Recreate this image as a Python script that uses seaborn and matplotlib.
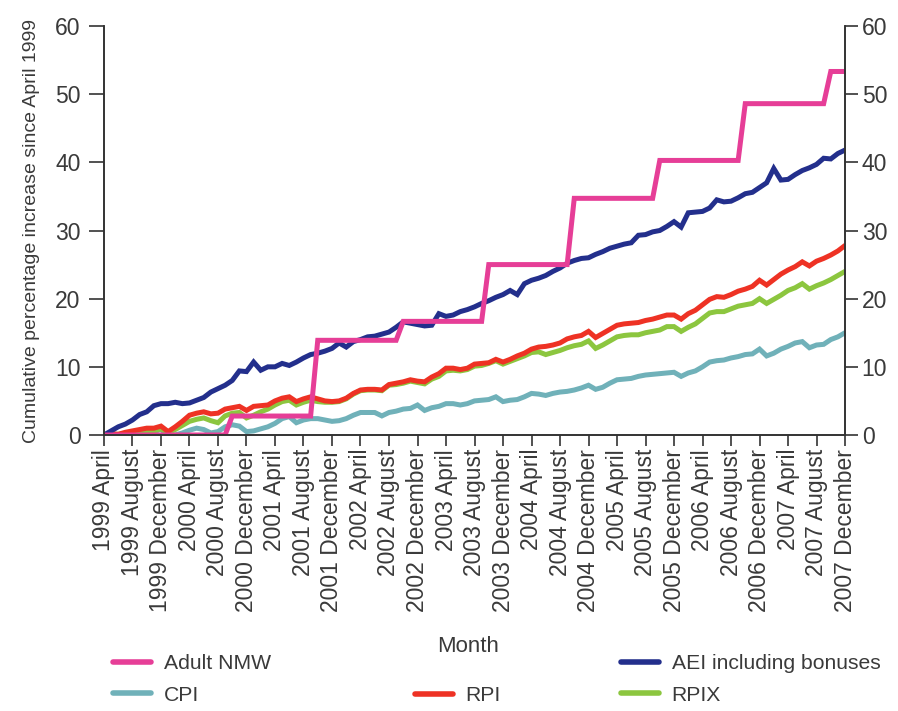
import numpy as np
import pandas as pd
import matplotlib
matplotlib.use("Agg")
import matplotlib.pyplot as plt
from matplotlib.lines import Line2D
import seaborn as sns

# month index 0 = 1999 April ... 104 = 2007 December
months = list(range(105))

tick_labels = [
    "1999 April", "1999 August", "1999 December",
    "2000 April", "2000 August", "2000 December",
    "2001 April", "2001 August", "2001 December",
    "2002 April", "2002 August", "2002 December",
    "2003 April", "2003 August", "2003 December",
    "2004 April", "2004 August", "2004 December",
    "2005 April", "2005 August", "2005 December",
    "2006 April", "2006 August", "2006 December",
    "2007 April", "2007 August", "2007 December",
]

# Adult NMW: level after each October uprating (months since April 1999)
nmw = ([0.0] * 18 + [2.78] * 12 + [13.89] * 12 + [16.67] * 12 + [25.0] * 12
       + [34.72] * 12 + [40.28] * 12 + [48.61] * 12 + [53.33] * 3)

aei = [0.0, 0.6, 1.2, 1.6, 2.2, 3.0, 3.4, 4.3, 4.6, 4.6,
       4.8, 4.6, 4.7, 5.1, 5.5, 6.3, 6.8, 7.3, 8.0, 9.4,
       9.3, 10.7, 9.5, 10.0, 10.0, 10.5, 10.2, 10.7, 11.3, 11.8,
       12.0, 12.3, 12.7, 13.5, 12.9, 13.7, 14.0, 14.4, 14.5, 14.8,
       15.1, 15.8, 16.6, 16.4, 16.2, 16.0, 16.1, 17.8, 17.4, 17.6,
       18.1, 18.4, 18.8, 19.3, 19.7, 20.2, 20.6, 21.2, 20.6, 22.2,
       22.7, 23.0, 23.4, 24.0, 24.5, 25.2, 25.6, 25.9, 26.0, 26.5,
       26.9, 27.4, 27.7, 28.0, 28.2, 29.3, 29.4, 29.8, 30.0, 30.6,
       31.3, 30.5, 32.6, 32.7, 32.8, 33.3, 34.5, 34.2, 34.3, 34.8,
       35.4, 35.6, 36.3, 37.0, 39.1, 37.4, 37.5, 38.2, 38.8, 39.2,
       39.7, 40.6, 40.5, 41.3, 41.8]

rpi = [0.0, 0.2, 0.1, 0.4, 0.6, 0.8, 1.0, 1.0, 1.3, 0.5,
       1.2, 2.0, 2.9, 3.2, 3.4, 3.1, 3.2, 3.8, 4.0, 4.2,
       3.6, 4.2, 4.3, 4.4, 5.0, 5.4, 5.6, 4.9, 5.3, 5.6,
       5.3, 5.0, 4.9, 5.0, 5.4, 6.1, 6.6, 6.7, 6.7, 6.6,
       7.4, 7.6, 7.8, 8.1, 7.9, 7.8, 8.5, 9.0, 9.8, 9.8,
       9.6, 9.8, 10.4, 10.5, 10.6, 11.1, 10.7, 11.1, 11.6, 12.0,
       12.6, 12.9, 13.0, 13.2, 13.5, 14.1, 14.4, 14.6, 15.2, 14.3,
       14.9, 15.5, 16.1, 16.3, 16.4, 16.5, 16.8, 17.0, 17.3, 17.6,
       17.6, 17.0, 17.8, 18.3, 19.1, 19.9, 20.3, 20.2, 20.6, 21.1,
       21.4, 21.8, 22.7, 22.0, 22.8, 23.6, 24.2, 24.7, 25.4, 24.8,
       25.5, 25.9, 26.4, 27.0, 27.8]

rpix = [0.0, 0.1, 0.1, 0.2, 0.3, 0.4, 0.5, 0.6, 0.9, 0.3,
        0.8, 1.4, 2.0, 2.3, 2.5, 2.1, 1.8, 2.8, 3.2, 3.3,
        2.5, 2.9, 3.4, 3.8, 4.4, 4.9, 5.1, 4.4, 4.8, 5.1,
        4.9, 4.8, 4.8, 4.9, 5.3, 6.0, 6.5, 6.6, 6.6, 6.5,
        7.3, 7.4, 7.6, 7.9, 7.7, 7.5, 8.2, 8.6, 9.4, 9.5,
        9.4, 9.6, 10.1, 10.2, 10.5, 10.9, 10.4, 10.8, 11.2, 11.6,
        12.1, 12.2, 11.8, 12.1, 12.4, 12.8, 13.1, 13.3, 13.8, 12.7,
        13.2, 13.8, 14.4, 14.6, 14.7, 14.7, 15.0, 15.2, 15.4, 15.9,
        15.9, 15.2, 15.8, 16.3, 17.1, 17.9, 18.1, 18.1, 18.5, 18.9,
        19.1, 19.3, 20.0, 19.3, 19.9, 20.5, 21.2, 21.6, 22.2, 21.4,
        21.9, 22.3, 22.8, 23.4, 24.0]

cpi = [0.0, 0.0, -0.5, -0.2, 0.0, 0.1, 0.2, 0.4, 0.9, -0.4,
       0.0, 0.3, 0.7, 1.0, 0.8, 0.3, 0.5, 1.2, 1.5, 1.3,
       0.5, 0.6, 0.9, 1.2, 1.7, 2.4, 2.7, 1.8, 2.2, 2.4,
       2.4, 2.2, 2.0, 2.1, 2.4, 2.9, 3.3, 3.3, 3.3, 2.8,
       3.3, 3.5, 3.8, 3.9, 4.4, 3.6, 4.0, 4.2, 4.6, 4.6,
       4.4, 4.6, 5.0, 5.1, 5.2, 5.6, 4.9, 5.1, 5.2, 5.6,
       6.1, 6.0, 5.8, 6.1, 6.3, 6.4, 6.6, 6.9, 7.3, 6.7,
       7.0, 7.6, 8.1, 8.2, 8.3, 8.6, 8.8, 8.9, 9.0, 9.1,
       9.2, 8.6, 9.1, 9.4, 10.0, 10.7, 10.9, 11.0, 11.3, 11.5,
       11.8, 11.9, 12.6, 11.6, 12.0, 12.6, 13.0, 13.5, 13.7, 12.8,
       13.2, 13.3, 14.0, 14.4, 15.0]

colors = {
    "Adult NMW": "#E63E97",
    "AEI including bonuses": "#232F8C",
    "CPI": "#70B1B9",
    "RPI": "#EE3224",
    "RPIX": "#8CC63F",
}

sns.set_theme(style="white")
plt.rcParams["font.family"] = ["Liberation Sans", "DejaVu Sans"]
text_col = "#3a3a3a"
axis_col = "#333333"

fig = plt.figure(figsize=(8.98, 7.11), dpi=100)
ax = fig.add_axes([0.1158, 0.3882, 0.8252, 0.5752])

lw = 3.6
# drawing order: CPI, RPIX, RPI, AEI, NMW on top
for name, vals in [("CPI", cpi), ("RPIX", rpix), ("RPI", rpi),
                   ("AEI including bonuses", aei), ("Adult NMW", nmw)]:
    sns.lineplot(x=months, y=vals, ax=ax, color=colors[name], lw=lw,
                 solid_joinstyle="miter")

ax.set_xlim(0, 104)
ax.set_ylim(0, 60)
ax.set_xticks(range(0, 105, 4))
ax.set_xticklabels(tick_labels, rotation=90, fontsize=16.5, color=text_col)
ax.set_yticks(range(0, 61, 10))
ax.tick_params(axis="y", labelsize=16.5, labelcolor=text_col, length=11,
               width=1.2, color=axis_col, pad=6, left=True)
ax.tick_params(axis="x", length=8, width=1.2, color=axis_col, pad=2,
               bottom=True)

# right-hand scale
ax2 = ax.twinx()
ax2.set_ylim(0, 60)
ax2.set_yticks(range(0, 61, 10))
ax2.tick_params(axis="y", labelsize=16.5, labelcolor=text_col, length=9,
                width=1.2, color=axis_col, pad=3, right=True)
ax2.grid(False)

for a in (ax, ax2):
    for s in ["left", "right", "bottom"]:
        a.spines[s].set_color(axis_col)
        a.spines[s].set_linewidth(1.2)
    a.spines["top"].set_visible(False)

ax.set_ylabel("Cumulative percentage increase since April 1999",
              fontsize=14.0, color=text_col, labelpad=11)
ax.set_xlabel("Month", fontsize=16, color=text_col)
ax.xaxis.set_label_coords(0.491, -0.492)


def h(name):
    return Line2D([], [], color=colors[name], lw=4)


def add_legend(names, x, y):
    leg = fig.legend([h(n) for n in names], names, loc="upper left",
                     bbox_to_anchor=(x / 898, 1 - y / 711), frameon=False,
                     fontsize=15.2, handlelength=1.8, handletextpad=0.6,
                     labelspacing=0.6, borderpad=0, borderaxespad=0)
    for t in leg.get_texts():
        t.set_color(text_col)


add_legend(["Adult NMW", "CPI"], 113, 654)
add_legend(["RPI"], 415, 686)
add_legend(["AEI including bonuses", "RPIX"], 621, 654)

fig.savefig("out.png", dpi=100)
